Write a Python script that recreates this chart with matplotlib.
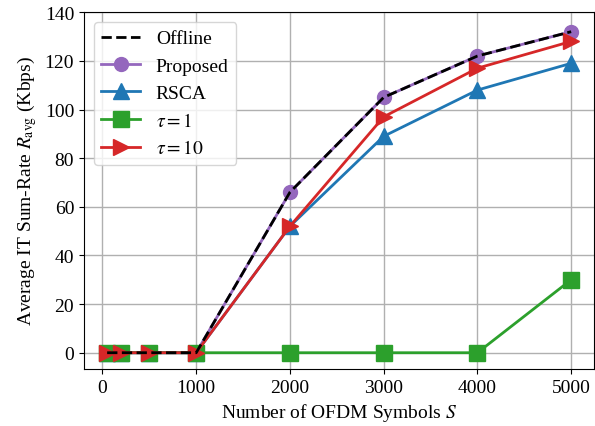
import matplotlib
matplotlib.use("Agg")
import matplotlib.pyplot as plt

plt.rcParams['font.family'] = ['Liberation Serif', 'DejaVu Serif']
plt.rcParams['mathtext.fontset'] = 'stix'
plt.rcParams['font.size'] = 14

symbols = [50, 200, 500, 1000, 2000, 3000, 4000, 5000]
offline = [0, 0, 0, 0, 66, 105, 122, 132]
proposed = [0, 0, 0, 0, 66, 105, 122, 132]
rsca = [0, 0, 0, 0, 52, 89, 108, 119]
tau1 = [0, 0, 0, 0, 0, 0, 0, 30]
tau10 = [0, 0, 0, 0, 52, 97, 117, 128]

fig, ax = plt.subplots(figsize=(5.95, 4.27), dpi=100)
ax.plot(symbols, proposed, color='tab:purple', marker='o', markersize=10, lw=2, label='Proposed', zorder=3)
ax.plot(symbols, rsca, color='tab:blue', marker='^', markersize=12, lw=2, label='RSCA', zorder=3)
ax.plot(symbols, tau1, color='tab:green', marker='s', markersize=11, lw=2, label=r'$\tau=1$', zorder=3)
ax.plot(symbols, tau10, color='tab:red', marker='>', markersize=12, lw=2, label=r'$\tau=10$', zorder=3)
ax.plot(symbols, offline, color='black', ls='--', lw=2, label='Offline', zorder=4)

handles, labels = ax.get_legend_handles_labels()
order = [4, 0, 1, 2, 3]
ax.legend([handles[i] for i in order], [labels[i] for i in order], loc='upper left', fontsize=14)

ax.set_xlim(-198, 5248)
ax.set_ylim(-6.6, 140)
ax.set_xticks([0, 1000, 2000, 3000, 4000, 5000])
ax.set_yticks(range(0, 141, 20))
ax.grid(True, color='#b0b0b0', lw=1)
ax.set_xlabel(r'Number of OFDM Symbols $S$')
ax.set_ylabel(r'Average IT Sum-Rate $R_{\rm avg}$ (Kbps)')
fig.subplots_adjust(left=0.141, right=0.999, top=0.969, bottom=0.134)
fig.savefig('out.png')
